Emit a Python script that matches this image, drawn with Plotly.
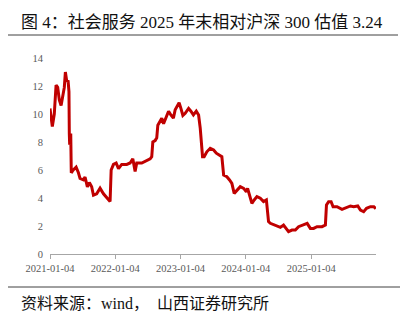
import plotly.graph_objects as go

dates = [
    "2021-01-04", "2021-01-17", "2021-01-28", "2021-02-07", "2021-02-16", "2021-02-25",
    "2021-03-07", "2021-03-16", "2021-03-25", "2021-03-31", "2021-04-08", "2021-04-15",
    "2021-04-20", "2021-04-22", "2021-04-24", "2021-04-30", "2021-05-03", "2021-05-14",
    "2021-05-30", "2021-06-12", "2021-06-21", "2021-07-10", "2021-07-19", "2021-08-01",
    "2021-08-12", "2021-08-25", "2021-09-04", "2021-09-22", "2021-10-11", "2021-10-30",
    "2021-11-14", "2021-11-27", "2021-12-06", "2021-12-12", "2021-12-25", "2022-01-09",
    "2022-01-22", "2022-02-09", "2022-03-09", "2022-03-28", "2022-04-12", "2022-04-25",
    "2022-05-04", "2022-06-01", "2022-06-29", "2022-07-18", "2022-07-27", "2022-08-02",
    "2022-08-15", "2022-08-24", "2022-08-30", "2022-09-12", "2022-09-21", "2022-10-01",
    "2022-10-16", "2022-10-29", "2022-11-11", "2022-11-25", "2022-12-05", "2022-12-14",
    "2022-12-27", "2023-01-06", "2023-01-17", "2023-01-30", "2023-02-18", "2023-03-03",
    "2023-03-17", "2023-04-02", "2023-04-15", "2023-04-24", "2023-04-30", "2023-05-07",
    "2023-05-16", "2023-05-31", "2023-06-19", "2023-07-08", "2023-07-23", "2023-08-10",
    "2023-08-23", "2023-09-02", "2023-09-20", "2023-10-05", "2023-10-18", "2023-10-31",
    "2023-11-15", "2023-12-04", "2023-12-23", "2024-01-07", "2024-01-14", "2024-01-29",
    "2024-02-07", "2024-02-20", "2024-03-06", "2024-03-25", "2024-04-12", "2024-04-28",
    "2024-05-05", "2024-05-10", "2024-05-20", "2024-06-17", "2024-07-15", "2024-08-02",
    "2024-08-18", "2024-08-30", "2024-09-18", "2024-10-07", "2024-10-25", "2024-11-19",
    "2024-12-12", "2024-12-30", "2025-01-17", "2025-02-05", "2025-03-05", "2025-03-24",
    "2025-03-30", "2025-04-11", "2025-04-25", "2025-05-06", "2025-05-28", "2025-06-25",
    "2025-07-23", "2025-08-11", "2025-08-29", "2025-09-21", "2025-10-06", "2025-10-24",
    "2025-11-09", "2025-12-01", "2025-12-20", "2025-12-31",
]
values = [
    10.4, 9.1, 10.0, 12.07, 11.9, 11.0,
    10.6, 11.3, 11.9, 13.0, 12.3, 12.4,
    11.6, 8.6, 7.8, 8.6, 5.8, 6.0,
    6.2, 5.8, 5.4, 5.3, 5.5, 4.8,
    5.1, 4.8, 4.2, 4.3, 4.7, 4.3,
    4.1, 3.9, 3.75, 6.0, 6.4, 6.5,
    6.1, 6.4, 6.4, 6.5, 6.8, 5.9,
    6.5, 6.5, 6.7, 6.8, 6.95, 8.0,
    8.1, 8.3, 9.2, 9.45, 9.7, 9.3,
    9.8, 10.2, 9.93, 9.7, 10.3, 10.5,
    10.8, 10.4, 9.9, 10.05, 10.4, 10.2,
    9.93, 10.2, 9.93, 9.0, 8.1, 6.95,
    6.95, 7.3, 7.55, 7.43, 7.2, 7.07,
    6.95, 5.64, 5.52, 5.29, 5.05, 4.33,
    4.57, 4.81, 4.69, 4.45, 4.69, 4.1,
    3.62, 3.86, 4.1, 3.98, 3.74, 3.86,
    3.14, 2.31, 2.19, 2.07, 1.9, 2.07,
    1.83, 1.6, 1.71, 1.71, 1.95, 2.07,
    2.19, 1.83, 1.83, 1.95, 1.95, 2.07,
    3.5, 3.74, 3.74, 3.38, 3.38, 3.19,
    3.33, 3.43, 3.38, 3.43, 3.14, 3.02,
    3.26, 3.38, 3.38, 3.24,
]
x_ticks = ["2021-01-04", "2022-01-04", "2023-01-04", "2024-01-04", "2025-01-04"]
y_ticks = [0, 2, 4, 6, 8, 10, 12, 14]

title_text = "图 4：社会服务 2025 年末相对沪深 300 估值 3.24"
source_text = "资料来源：wind，  山西证券研究所"

W, H = 404, 319
L, R, T, B = 50, 28, 58, 65
pw = W - L - R
ph = H - T - B

def px_x(px):
    return (px - L) / pw

def px_y(py):
    return (H - B - py) / ph

serif = "Liberation Serif, Noto Sans CJK SC, serif"

fig = go.Figure()
fig.add_trace(go.Scatter(
    x=dates, y=values, mode="lines",
    line=dict(color="#C00000", width=3),
    showlegend=False, hoverinfo="skip",
))

fig.update_layout(
    width=W, height=H,
    margin=dict(l=L, r=R, t=T, b=B),
    paper_bgcolor="white", plot_bgcolor="white",
    xaxis=dict(
        type="date",
        range=["2021-01-04", "2026-01-01"],
        tickvals=x_ticks, ticktext=x_ticks,
        showgrid=False, zeroline=False,
        showline=True, linecolor="#A6A6A6", linewidth=1,
        ticks="outside", ticklen=4, tickcolor="#A6A6A6",
        tickfont=dict(family=serif, size=10.5, color="#595959"),
    ),
    yaxis=dict(
        range=[0, 14], tickvals=y_ticks,
        showgrid=False, zeroline=False, showline=False,
        ticks="", ticklabelstandoff=6,
        tickfont=dict(family=serif, size=10.5, color="#595959"),
    ),
    shapes=[
        dict(type="line", xref="paper", yref="paper",
             x0=px_x(8), x1=px_x(398), y0=px_y(35), y1=px_y(35),
             line=dict(color="#404040", width=1)),
        dict(type="line", xref="paper", yref="paper",
             x0=px_x(8), x1=px_x(400), y0=px_y(287), y1=px_y(287),
             line=dict(color="#404040", width=1)),
    ],
    annotations=[
        dict(text=title_text, xref="paper", yref="paper",
             x=px_x(19), y=px_y(22), xanchor="left", yanchor="middle",
             showarrow=False,
             font=dict(family=serif, size=17, color="#111111")),
        dict(text=source_text, xref="paper", yref="paper",
             x=px_x(19), y=px_y(303), xanchor="left", yanchor="middle",
             showarrow=False,
             font=dict(family=serif, size=16, color="#111111")),
    ],
)

fig.write_html("out.html")
